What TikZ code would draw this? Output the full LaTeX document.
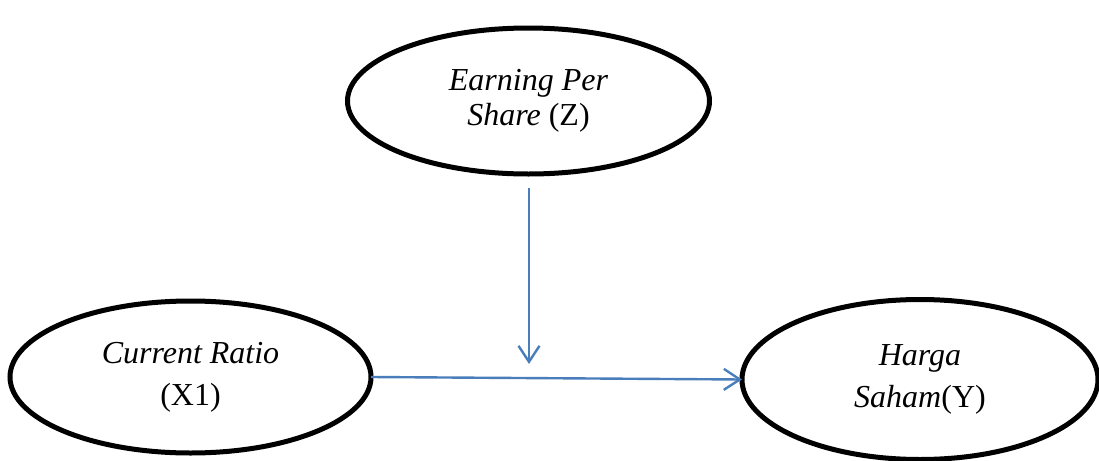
\documentclass[tikz,border=0pt]{standalone}
\usepackage{fontspec}
\setmainfont{Liberation Serif}
\usetikzlibrary{shapes.geometric, arrows.meta}
\definecolor{linkblue}{RGB}{74,126,187}
\begin{document}
\begin{tikzpicture}[x=0.5pt, y=-0.5pt,
  var/.style={ellipse, draw, line width=2.5pt, inner sep=0pt, outer sep=0pt,
    align=center, font=\fontsize{16}{21}\selectfont},
  link/.style={draw=linkblue, line width=1.2pt,
    -{Straight Barb[length=8pt, width=10.5pt]}}]
\useasboundingbox (0,0) rectangle (1099,461);

\node[var, minimum width=181pt, minimum height=73pt,
  font=\fontsize{16}{17.5}\selectfont] (eps) at (528.5,101)
  {\textit{Earning Per}\\\textit{Share} (Z)};
\node[var, minimum width=180.5pt, minimum height=76pt] (cr) at (190.5,377)
  {\textit{Current Ratio}\\(X1)};
\node[var, minimum width=178pt, minimum height=80pt] (hs) at (920,379.5)
  {\textit{Harga}\\\textit{Saham}(Y)};

\coordinate (zs) at (529,188);
\coordinate (zt) at (529,364);

\draw[link] (zs) -- (zt);
\draw[link] (cr.east) -- (hs.west);
\end{tikzpicture}
\end{document}
